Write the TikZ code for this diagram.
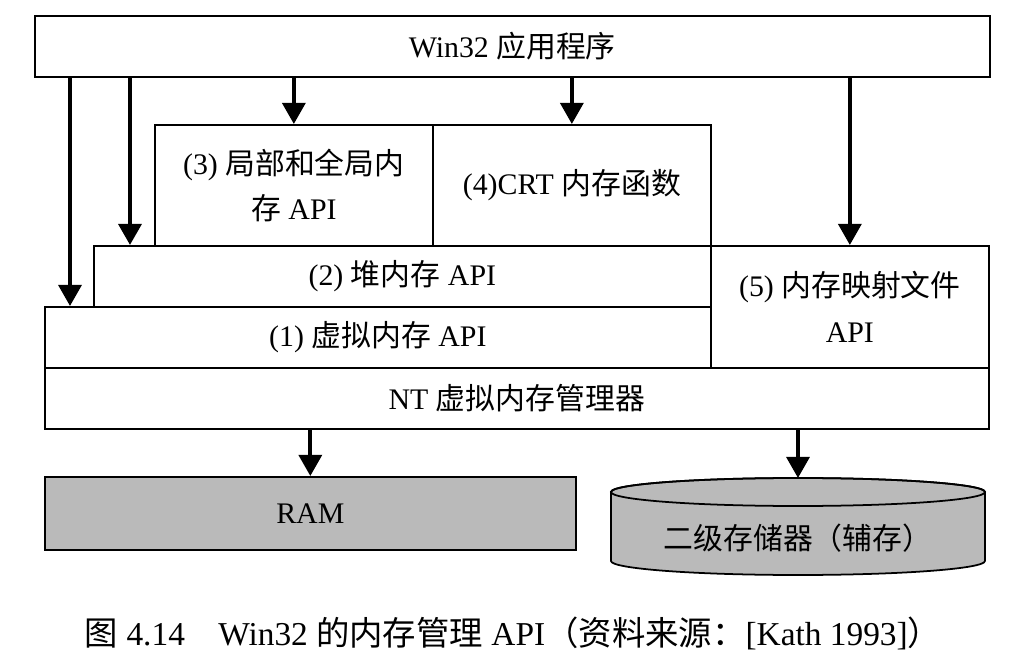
\documentclass[tikz,border=0pt]{standalone}
\usepackage{fontspec}
\setmainfont{Liberation Serif}
\newfontfamily\cjk{Noto Sans CJK SC}
\newcommand{\zh}[1]{{\cjk #1}}
\usetikzlibrary{arrows.meta,positioning}
\definecolor{memgray}{RGB}{186,186,186}

\begin{document}
\begin{tikzpicture}[x=0.02cm,y=0.02cm,
  box/.style={draw,line width=1pt,rectangle,inner sep=0pt,anchor=north west,
    align=center,font=\fontsize{17}{26}\selectfont},
  flow/.style={-{Triangle[length=12pt,width=13pt]},line width=2.2pt}]

  \useasboundingbox (0,0) rectangle (1019,-669);

  % layers
  \node[box,minimum width=19.1cm,minimum height=1.22cm]  (app)  at (34,-15)   {Win32 \zh{应用程序}};
  \node[box,minimum width=5.56cm,minimum height=2.42cm]  (loc)  at (154,-124) {(3) \zh{局部和全局内}\\\zh{存} API};
  \node[box,minimum width=5.56cm,minimum height=2.42cm]  (crt)  at (432,-124) {(4)CRT \zh{内存函数}};
  \node[box,minimum width=12.34cm,minimum height=1.22cm] (heap) at (93,-245)  {(2) \zh{堆内存} API};
  \node[box,minimum width=5.56cm,minimum height=2.44cm]  (map)  at (710,-245) {(5) \zh{内存映射文件}\\API};
  \node[box,minimum width=13.32cm,minimum height=1.22cm] (virt) at (44,-306)  {(1) \zh{虚拟内存} API};
  \node[box,minimum width=18.88cm,minimum height=1.22cm] (nt)   at (44,-367)  {NT \zh{虚拟内存管理器}};
  \node[box,fill=memgray,minimum width=10.62cm,minimum height=1.46cm] (ram) at (44,-476) {RAM};

  % disk
  \draw[line width=1pt,fill=memgray] (611,-492) -- (611,-561)
    arc[start angle=180,end angle=360,x radius=3.74cm,y radius=0.28cm] -- (985,-492)
    arc[start angle=0,end angle=180,x radius=3.74cm,y radius=0.28cm] -- cycle;
  \draw[line width=1pt] (798,-492) ellipse [x radius=3.74cm,y radius=0.28cm];
  \coordinate (disktop) at (798,-478);
  \node[font=\fontsize{17}{26}\selectfont] (disk) at (798,-538) {\zh{二级存储器（辅存）}};

  % calls
  \draw[flow] ([xshift=0.72cm]app.south west) coordinate (s1) -- (s1 |- virt.north);
  \draw[flow] ([xshift=1.92cm]app.south west) coordinate (s2) -- (s2 |- heap.north);
  \draw[flow] (app.south -| loc.north) -- (loc.north);
  \draw[flow] (app.south -| crt.north) -- (crt.north);
  \draw[flow] (app.south -| map.north) -- (map.north);
  \draw[flow] (nt.south -| ram.north) -- (ram.north);
  \draw[flow] (nt.south -| disktop) -- (disktop);

  \node[font=\fontsize{19}{22}\selectfont] (cap) at (513,-633)
    {\zh{图} 4.14\quad Win32 \zh{的内存管理} API\zh{（资料来源：}[Kath 1993]\zh{）}};
\end{tikzpicture}
\end{document}
